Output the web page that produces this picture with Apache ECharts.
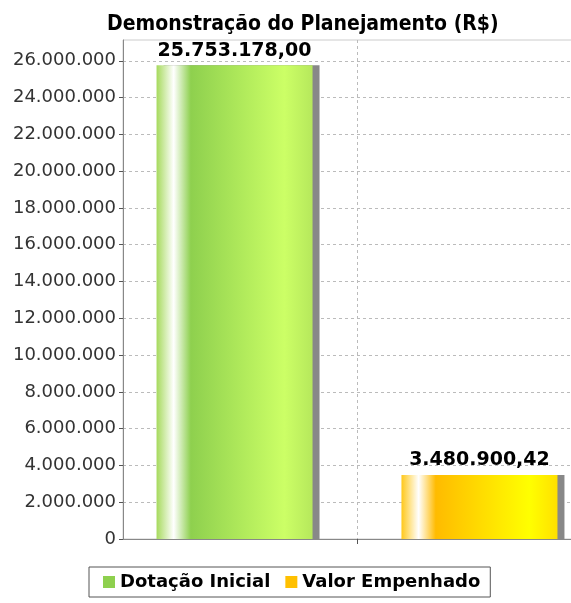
<!DOCTYPE html>
<html>
<head>
<meta charset="utf-8">
<script src="https://cdn.jsdelivr.net/npm/echarts@6/dist/echarts.min.js"></script>
<style>
  html, body { margin: 0; padding: 0; background: #fff; }
  #chart { width: 571px; height: 603px; }
</style>
</head>
<body>
<div id="chart"></div>
<script>
// dados do gráfico
const categorias = ['Planejamento'];
const series = ['Dotação Inicial', 'Valor Empenhado'];
const dotacaoInicial = [25753178.00];
const valorEmpenhado = [3480900.42];

// formata no padrão brasileiro
function fmtBR(v, dec) {
  let s = Number(v).toFixed(dec);
  let partes = s.split('.');
  let inteiro = partes[0].replace(/\B(?=(\d{3})+(?!\d))/g, '.');
  return dec > 0 ? inteiro + ',' + partes[1] : inteiro;
}

function gradiente(c) {
  return new echarts.graphic.LinearGradient(0, 0, 1, 0, [
    { offset: 0, color: c[0] },
    { offset: 0.11, color: '#ffffff' },
    { offset: 0.22, color: c[1] },
    { offset: 0.82, color: c[2] },
    { offset: 1, color: c[3] }
  ]);
}

const verde = ['#a6da5c', '#8ed04e', '#ccff66', '#b6e85c'];
const amarelo = ['#ffc81a', '#ffbb00', '#ffff00', '#ffe000'];

let myChart = echarts.init(document.getElementById('chart'));

let labelValor = {
  show: true,
  position: 'top',
  distance: 5,
  color: '#000',
  fontFamily: 'DejaVu Sans',
  fontWeight: 'bold',
  fontSize: 19,
  formatter: p => fmtBR(p.value, 2)
};

let option = {
  animation: false,
  backgroundColor: '#fff',
  title: {
    text: 'Demonstração do Planejamento (R$)',
    left: 102,
    top: 9,
    textStyle: {
      color: '#000',
      fontFamily: 'DejaVu Sans Condensed',
      fontWeight: 'bold',
      fontSize: 21
    }
  },
  legend: {
    left: 89,
    top: 567,
    padding: [6, 10, 6, 14],
    borderColor: '#555',
    borderWidth: 1,
    itemWidth: 12,
    itemHeight: 12,
    itemGap: 15,
    icon: 'rect',
    textStyle: {
      color: '#000',
      fontFamily: 'DejaVu Sans',
      fontWeight: 'bold',
      fontSize: 18
    },
    data: [
      { name: series[0], itemStyle: { color: '#8ed04e' } },
      { name: series[1], itemStyle: { color: '#ffc000' } }
    ]
  },
  grid: {
    left: 123,
    width: 468,
    top: 40,
    bottom: 64,
    outerBoundsMode: 'none',
    show: true,
    borderColor: '#cccccc',
    borderWidth: 1
  },
  xAxis: [
    {
      type: 'category',
      data: categorias,
      axisLine: { lineStyle: { color: '#888' } },
      axisTick: { show: true, alignWithLabel: true, length: 5, lineStyle: { color: '#555' } },
      axisLabel: { show: false },
      splitLine: { show: false }
    },
    {
      // eixo auxiliar só para a linha vertical no meio da categoria
      type: 'value',
      position: 'bottom',
      min: 0,
      max: 2,
      interval: 1,
      axisLine: { show: false },
      axisTick: { show: false },
      axisLabel: { show: false },
      splitLine: {
        show: true,
        showMinLine: false,
        showMaxLine: false,
        lineStyle: { color: '#bbbbbb', type: [3, 3] }
      }
    }
  ],
  yAxis: {
    type: 'value',
    min: 0,
    max: 27130000,
    interval: 2000000,
    axisLine: { show: true, lineStyle: { color: '#888' } },
    axisTick: { show: true, length: 4, lineStyle: { color: '#555' } },
    axisLabel: {
      color: '#333',
      fontFamily: 'DejaVu Sans',
      fontSize: 18,
      margin: 7,
      showMaxLabel: false,
      formatter: v => fmtBR(v, 0)
    },
    splitLine: {
      show: true,
      showMaxLine: false,
      lineStyle: { color: '#bbbbbb', type: [3, 3] }
    }
  },
  series: [
    {
      name: series[0],
      type: 'bar',
      barWidth: 156,
      barGap: '57%',
      data: dotacaoInicial,
      itemStyle: {
        color: gradiente(verde),
        shadowColor: '#888',
        shadowBlur: 0,
        shadowOffsetX: 7,
        shadowOffsetY: 0
      },
      label: labelValor
    },
    {
      name: series[1],
      type: 'bar',
      barWidth: 156,
      data: valorEmpenhado,
      itemStyle: {
        color: gradiente(amarelo),
        shadowColor: '#888',
        shadowBlur: 0,
        shadowOffsetX: 7,
        shadowOffsetY: 0
      },
      label: labelValor
    }
  ]
};

myChart.setOption(option, true);
</script>
</body>
</html>
